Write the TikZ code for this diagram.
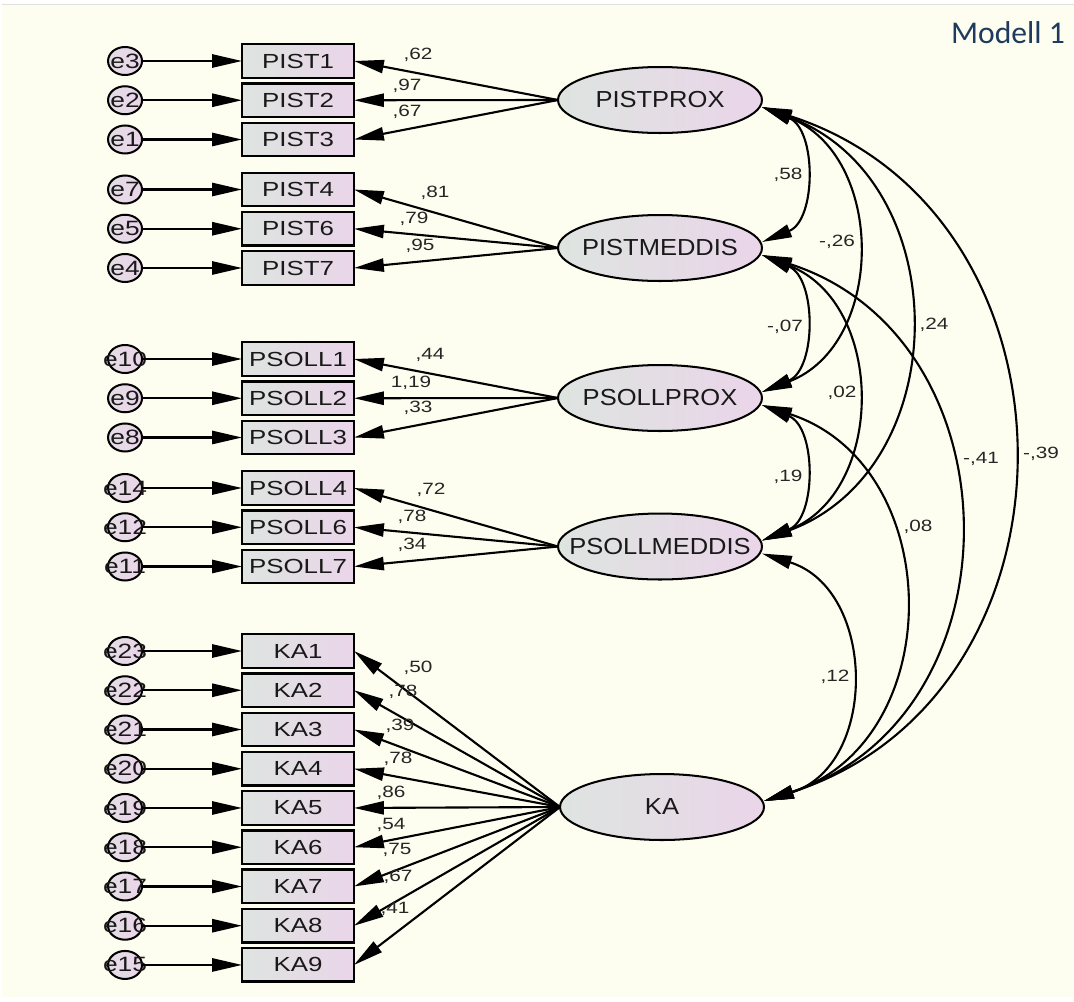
\documentclass[tikz,border=0pt]{standalone}
\usepackage{fontspec}
\usetikzlibrary{positioning,shapes.geometric,arrows.meta}

\newfontfamily\boxfont{Liberation Sans}[FakeStretch=1.27]
\newfontfamily\latfont{Liberation Sans}[FakeStretch=1.1]
\newfontfamily\titlefont{Carlito}

\definecolor{paper}{HTML}{FEFEF0}
\definecolor{leftgrey}{HTML}{DEE4E0}
\definecolor{rightpink}{HTML}{EAD5E9}
\definecolor{titleblue}{HTML}{1F3A5F}

% text that may stick out of its shape without resizing it
\newcommand{\zerowd}[1]{\makebox[0pt]{#1}}

\tikzset{
    amos/.tip={Triangle[length=17pt,width=7.5pt]},
    obs/.style={draw, line width=1.4pt, left color=leftgrey, right color=rightpink,
        minimum width=2.24cm, minimum height=0.67cm, inner sep=0pt, outer sep=0pt,
        text=black!90, font=\boxfont\fontsize{11.6}{13}\selectfont},
    lat/.style={ellipse, draw, line width=1.15pt, left color=leftgrey, right color=rightpink,
        minimum width=4.08cm, minimum height=1.32cm, inner sep=0pt, outer sep=0pt,
        text=black!90, font=\latfont\fontsize{13.2}{15}\selectfont},
    err/.style={ellipse, draw, line width=1.15pt, left color=leftgrey!50!rightpink, right color=rightpink,
        minimum width=0.68cm, minimum height=0.56cm, inner sep=0pt, outer sep=0pt,
        text=black!90, font=\boxfont\fontsize{11.8}{13}\selectfont},
    coef/.style={inner sep=0pt, text=black!85, font=\boxfont\fontsize{9.3}{10}\selectfont},
    effect/.style={line width=1.2pt, -amos},
    cov/.style={line width=1.2pt, amos-amos},
}

\begin{document}
\begin{tikzpicture}[x=0.02cm, y=-0.02cm]
    \useasboundingbox (0,0) rectangle (1074,1001);
    \fill[white] (0,0) rectangle (1074,1001);
    \fill[paper] (2,5) rectangle (1074,997);
    \draw[black!12, line width=0.6pt] (2,4.5) -- (1074,4.5);

    \node[text=titleblue, font=\titlefont\fontsize{18}{20}\selectfont] (title) at (1008,33) {Modell 1};

    % indicators
    \node[obs] (pist1) at (298,61) {PIST1};
    \node[obs, below=0.115cm of pist1] (pist2) {PIST2};
    \node[obs, below=0.115cm of pist2] (pist3) {PIST3};
    \node[obs] (pist4) at (298,189.5) {PIST4};
    \node[obs, below=0.115cm of pist4] (pist6) {PIST6};
    \node[obs, below=0.115cm of pist6] (pist7) {PIST7};
    \node[obs] (psoll1) at (298,359) {PSOLL1};
    \node[obs, below=0.115cm of psoll1] (psoll2) {PSOLL2};
    \node[obs, below=0.115cm of psoll2] (psoll3) {PSOLL3};
    \node[obs] (psoll4) at (298,488) {PSOLL4};
    \node[obs, below=0.115cm of psoll4] (psoll6) {PSOLL6};
    \node[obs, below=0.115cm of psoll6] (psoll7) {PSOLL7};
    \node[obs] (ka1) at (298,651) {KA1};
    \node[obs, below=0.115cm of ka1] (ka2) {KA2};
    \node[obs, below=0.115cm of ka2] (ka3) {KA3};
    \node[obs, below=0.115cm of ka3] (ka4) {KA4};
    \node[obs, below=0.115cm of ka4] (ka5) {KA5};
    \node[obs, below=0.115cm of ka5] (ka6) {KA6};
    \node[obs, below=0.115cm of ka6] (ka7) {KA7};
    \node[obs, below=0.115cm of ka7] (ka8) {KA8};
    \node[obs, below=0.115cm of ka8] (ka9) {KA9};

    % residuals
    \node[err, left=2cm of pist1] (e3) {\zerowd{e3}};
    \node[err, left=2cm of pist2] (e2) {\zerowd{e2}};
    \node[err, left=2cm of pist3] (e1) {\zerowd{e1}};
    \node[err, left=2cm of pist4] (e7) {\zerowd{e7}};
    \node[err, left=2cm of pist6] (e5) {\zerowd{e5}};
    \node[err, left=2cm of pist7] (e4) {\zerowd{e4}};
    \node[err, left=2cm of psoll1] (e10) {\zerowd{e10}};
    \node[err, left=2cm of psoll2] (e9) {\zerowd{e9}};
    \node[err, left=2cm of psoll3] (e8) {\zerowd{e8}};
    \node[err, left=2cm of psoll4] (e14) {\zerowd{e14}};
    \node[err, left=2cm of psoll6] (e12) {\zerowd{e12}};
    \node[err, left=2cm of psoll7] (e11) {\zerowd{e11}};
    \node[err, left=2cm of ka1] (e23) {\zerowd{e23}};
    \node[err, left=2cm of ka2] (e22) {\zerowd{e22}};
    \node[err, left=2cm of ka3] (e21) {\zerowd{e21}};
    \node[err, left=2cm of ka4] (e20) {\zerowd{e20}};
    \node[err, left=2cm of ka5] (e19) {\zerowd{e19}};
    \node[err, left=2cm of ka6] (e18) {\zerowd{e18}};
    \node[err, left=2cm of ka7] (e17) {\zerowd{e17}};
    \node[err, left=2cm of ka8] (e16) {\zerowd{e16}};
    \node[err, left=2cm of ka9] (e15) {\zerowd{e15}};

    % factors
    \node[lat] (pistprox) at (660,100) {\zerowd{PISTPROX}};
    \node[lat] (pistmeddis) at (660,248) {\zerowd{PISTMEDDIS}};
    \node[lat] (psollprox) at (660,398) {\zerowd{PSOLLPROX}};
    \node[lat] (psollmeddis) at (660,546.5) {\zerowd{PSOLLMEDDIS}};
    \node[lat] (ka) at (662,807) {\zerowd{KA}};

    % residual paths
    \draw[effect] (e3) -- (pist1);
    \draw[effect] (e2) -- (pist2);
    \draw[effect] (e1) -- (pist3);
    \draw[effect] (e7) -- (pist4);
    \draw[effect] (e5) -- (pist6);
    \draw[effect] (e4) -- (pist7);
    \draw[effect] (e10) -- (psoll1);
    \draw[effect] (e9) -- (psoll2);
    \draw[effect] (e8) -- (psoll3);
    \draw[effect] (e14) -- (psoll4);
    \draw[effect] (e12) -- (psoll6);
    \draw[effect] (e11) -- (psoll7);
    \draw[effect] (e23) -- (ka1);
    \draw[effect] (e22) -- (ka2);
    \draw[effect] (e21) -- (ka3);
    \draw[effect] (e20) -- (ka4);
    \draw[effect] (e19) -- (ka5);
    \draw[effect] (e18) -- (ka6);
    \draw[effect] (e17) -- (ka7);
    \draw[effect] (e16) -- (ka8);
    \draw[effect] (e15) -- (ka9);

    % loadings
    \draw[effect] (pistprox.west) -- (pist1.east);
    \draw[effect] (pistprox.west) -- (pist2.east);
    \draw[effect] (pistprox.west) -- (pist3.east);
    \draw[effect] (pistmeddis.west) -- (pist4.east);
    \draw[effect] (pistmeddis.west) -- (pist6.east);
    \draw[effect] (pistmeddis.west) -- (pist7.east);
    \draw[effect] (psollprox.west) -- (psoll1.east);
    \draw[effect] (psollprox.west) -- (psoll2.east);
    \draw[effect] (psollprox.west) -- (psoll3.east);
    \draw[effect] (psollmeddis.west) -- (psoll4.east);
    \draw[effect] (psollmeddis.west) -- (psoll6.east);
    \draw[effect] (psollmeddis.west) -- (psoll7.east);
    \draw[effect] (ka.west) -- (ka1.east);
    \draw[effect] (ka.west) -- (ka2.east);
    \draw[effect] (ka.west) -- (ka3.east);
    \draw[effect] (ka.west) -- (ka4.east);
    \draw[effect] (ka.west) -- (ka5.east);
    \draw[effect] (ka.west) -- (ka6.east);
    \draw[effect] (ka.west) -- (ka7.east);
    \draw[effect] (ka.west) -- (ka8.east);
    \draw[effect] (ka.west) -- (ka9.east);

    \node[coef] (l-pist1) at (418,55) {,62};
    \node[coef] (l-pist2) at (407,86) {,97};
    \node[coef] (l-pist3) at (407,112) {,67};
    \node[coef] (l-pist4) at (435,193) {,81};
    \node[coef] (l-pist6) at (414,219) {,79};
    \node[coef] (l-pist7) at (420,246) {,95};
    \node[coef] (l-psoll1) at (430,355) {,44};
    \node[coef] (l-psoll2) at (411,383) {1,19};
    \node[coef] (l-psoll3) at (418,408) {,33};
    \node[coef] (l-psoll4) at (431,490) {,72};
    \node[coef] (l-psoll6) at (412,517) {,78};
    \node[coef] (l-psoll7) at (412,545) {,34};
    \node[coef] (l-ka1) at (418,668) {,50};
    \node[coef] (l-ka2) at (403,692) {,78};
    \node[coef] (l-ka3) at (400,726) {,39};
    \node[coef] (l-ka4) at (398,759) {,78};
    \node[coef] (l-ka5) at (391,793) {,86};
    \node[coef] (l-ka6) at (391,825) {,54};
    \node[coef] (l-ka7) at (397,850) {,75};
    \node[coef] (l-ka8) at (398,877) {,67};
    \node[coef] (l-ka9) at (395,909) {,41};

    % correlations between factors
    \draw[cov] ([yshift=-4pt]pistprox.east) .. controls +(54.6,22.2) and +(54.6,-22.2) .. ([yshift=3.4pt]pistmeddis.east);
    \draw[cov] ([yshift=-4pt]pistprox.east) .. controls +(124,48.2) and +(124,-48.2) .. ([yshift=3.4pt]psollprox.east);
    \draw[cov] ([yshift=-4pt]pistprox.east) .. controls +(194.6,72.5) and +(194.6,-72.5) .. ([yshift=3.4pt]psollmeddis.east);
    \draw[cov] ([yshift=-4pt]pistprox.east) .. controls +(330.4,106.4) and +(330.4,-106.4) .. ([yshift=3.4pt]ka.east);
    \draw[cov] ([yshift=-4pt]pistmeddis.east) .. controls +(54.6,23.3) and +(54.6,-23.3) .. ([yshift=3.4pt]psollprox.east);
    \draw[cov] ([yshift=-4pt]pistmeddis.east) .. controls +(124,48.5) and +(124,-48.5) .. ([yshift=3.4pt]psollmeddis.east);
    \draw[cov] ([yshift=-4pt]pistmeddis.east) .. controls +(258.6,83.4) and +(258.6,-83.4) .. ([yshift=3.4pt]ka.east);
    \draw[cov] ([yshift=-4pt]psollprox.east) .. controls +(54.6,22.5) and +(54.6,-22.5) .. ([yshift=3.4pt]psollmeddis.east);
    \draw[cov] ([yshift=-4pt]psollprox.east) .. controls +(185.3,60.3) and +(185.3,-60.3) .. ([yshift=3.4pt]ka.east);
    \draw[cov] ([yshift=-4pt]psollmeddis.east) .. controls +(114.6,35.9) and +(114.6,-35.9) .. ([yshift=3.4pt]ka.east);

    \node[coef] (r-pp-pm) at (788,175) {,58};
    \node[coef] (r-pp-sp) at (837,242) {-,26};
    \node[coef] (r-pp-sm) at (934,325) {,24};
    \node[coef] (r-pp-ka) at (1041,454) {-,39};
    \node[coef] (r-pm-sp) at (785,327) {-,07};
    \node[coef] (r-pm-sm) at (842,393) {,02};
    \node[coef] (r-pm-ka) at (981,459) {-,41};
    \node[coef] (r-sp-sm) at (788,477) {,19};
    \node[coef] (r-sp-ka) at (918,527) {,08};
    \node[coef] (r-sm-ka) at (835,677) {,12};
\end{tikzpicture}
\end{document}
